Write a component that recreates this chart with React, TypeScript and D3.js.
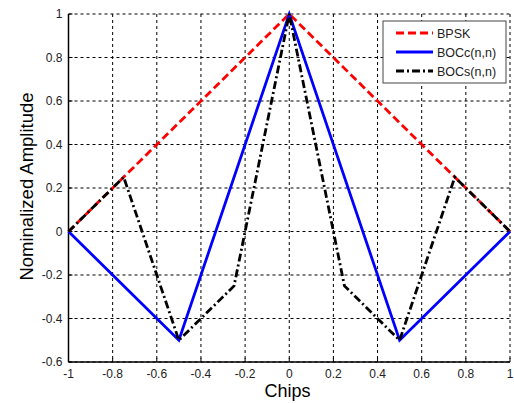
import React from "react";
import * as d3 from "d3";

const xTicks = [-1, -0.8, -0.6, -0.4, -0.2, 0, 0.2, 0.4, 0.6, 0.8, 1];
const yTicks = [-0.6, -0.4, -0.2, 0, 0.2, 0.4, 0.6, 0.8, 1];

const bpskX = [-1, 0, 1];
const bpskY = [0, 1, 0];
const boccX = [-1, -0.5, 0, 0.5, 1];
const boccY = [0, -0.5, 1, -0.5, 0];
const bocsX = [-1, -0.75, -0.5, -0.25, 0, 0.25, 0.5, 0.75, 1];
const bocsY = [0, 0.25, -0.5, -0.25, 1, -0.25, -0.5, 0.25, 0];

const series = [
  { name: "BPSK", xs: bpskX, ys: bpskY, color: "#ff0000", dash: "8,4" },
  { name: "BOCc(n,n)", xs: boccX, ys: boccY, color: "#0000ff", dash: "" },
  { name: "BOCs(n,n)", xs: bocsX, ys: bocsY, color: "#000000", dash: "8,3,2,3" },
];

export default function App() {
  const W = 514, H = 403;
  const L = 68.5, R = 510, T = 14, B = 362;
  const x = d3.scaleLinear().domain([-1, 1]).range([L, R]);
  const y = d3.scaleLinear().domain([-0.6, 1]).range([B, T]);
  const line = d3.line<[number, number]>().x(d => x(d[0])).y(d => y(d[1]));
  const fmt = (v: number) => (Math.abs(v) < 1e-9 ? "0" : String(+v.toFixed(1)));
  const font = "Arial, 'Liberation Sans', sans-serif";
  return (
    <svg width={W} height={H} style={{ position: "absolute", left: 0, top: 0, background: "#fff" }} fontFamily={font}>
      <rect width={W} height={H} fill="#fff" />
      {xTicks.map(t => (
        <line key={"gx" + t} x1={x(t)} x2={x(t)} y1={T} y2={B} stroke="#000" strokeWidth={1} strokeDasharray="3,3" />
      ))}
      {yTicks.map(t => (
        <line key={"gy" + t} x1={L} x2={R} y1={y(t)} y2={y(t)} stroke="#000" strokeWidth={1} strokeDasharray="3,3" />
      ))}
      <line x1={L} x2={L} y1={T} y2={B} stroke="#000" strokeWidth={1.5} />
      <line x1={L} x2={R} y1={B} y2={B} stroke="#000" strokeWidth={1.5} />
      {xTicks.map(t => (
        <g key={"xt" + t}>
          <line x1={x(t)} x2={x(t)} y1={B} y2={B - 4} stroke="#000" />
          <text x={x(t)} y={B + 16} textAnchor="middle" fontSize={12} fill="#222">{fmt(t)}</text>
        </g>
      ))}
      {yTicks.map(t => (
        <g key={"yt" + t}>
          <line x1={L} x2={L + 4} y1={y(t)} y2={y(t)} stroke="#000" />
          <text x={L - 6} y={y(t) + 4} textAnchor="end" fontSize={12} fill="#222">{fmt(t)}</text>
        </g>
      ))}
      {series.map(s => (
        <path key={s.name} d={line(s.xs.map((v, i) => [v, s.ys[i]] as [number, number])) || ""}
          fill="none" stroke={s.color} strokeWidth={2.8} strokeDasharray={s.dash || undefined} strokeLinejoin="miter" />
      ))}
      <text x={287.5} y={397} textAnchor="middle" fontSize={18} fill="#000">Chips</text>
      <text transform={`translate(33,186.5) rotate(-90)`} textAnchor="middle" fontSize={18.5} fill="#000">Nominalized Amplitude</text>
      <g>
        <rect x={383} y={21} width={123} height={62} fill="#fff" stroke="#444" strokeWidth={1} />
        {series.map((s, i) => (
          <g key={"lg" + s.name}>
            <line x1={396} x2={433} y1={33 + i * 19} y2={33 + i * 19} stroke={s.color} strokeWidth={2.8} strokeDasharray={s.dash || undefined} />
            <text x={437} y={33 + i * 19 + 4.5} fontSize={12.5} fill="#222">{s.name}</text>
          </g>
        ))}
      </g>
    </svg>
  );
}
